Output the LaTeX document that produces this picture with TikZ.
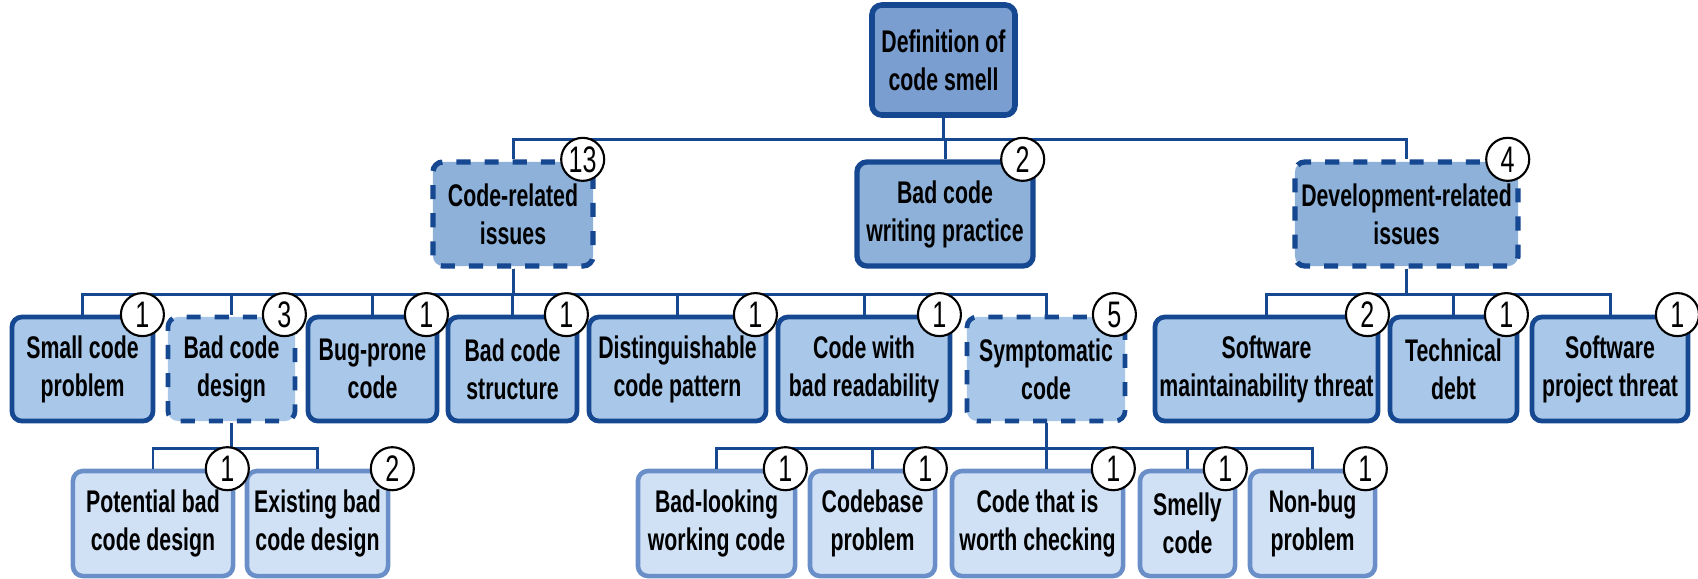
\documentclass[tikz,border=0pt]{standalone}
\usepackage{fontspec}
\setmainfont{Liberation Sans}[FakeStretch=0.68]
\definecolor{smellline}{RGB}{22,72,145}
\definecolor{rootfill}{RGB}{122,158,208}
\definecolor{catfill}{RGB}{141,177,217}
\definecolor{subfill}{RGB}{168,199,233}
\definecolor{leaffill}{RGB}{208,225,246}
\definecolor{leafline}{RGB}{105,142,200}
\begin{document}
\begin{tikzpicture}[x=0.01cm,y=-0.01cm,
	box/.style={rectangle, rounded corners=0.1cm, align=center, inner sep=0pt, text=black, font=\fontsize{8.9}{10.8}\selectfont\bfseries},
	rootbox/.style={box, draw=smellline, line width=1.6pt, fill=rootfill, minimum height=1.10cm},
	catbox/.style={box, draw=smellline, line width=1.5pt, fill=catfill, minimum height=1.04cm},
	subbox/.style={box, draw=smellline, line width=1.35pt, fill=subfill, minimum height=1.04cm},
	leafbox/.style={box, draw=leafline, line width=1.3pt, fill=leaffill, minimum height=1.05cm},
	group/.style={dash pattern=on 4pt off 4pt},
	link/.style={draw=smellline, line width=0.85pt},
	badge/.style={circle, draw=black, line width=0.6pt, fill=white, minimum size=0.43cm, inner sep=0pt, font=\fontsize{10.5}{12}\selectfont}]
		\useasboundingbox (0,0) rectangle (1698,578);
		
		% root and first level
		\node[rootbox, minimum width=1.43cm] (root) at (943.5,60) {Definition of\\code smell};
		\node[catbox, group, minimum width=1.60cm] (code) at (513,214) {Code-related\\issues};
		\node[catbox, minimum width=1.76cm] (practice) at (945,214) {Bad code\\writing practice};
		\node[catbox, group, minimum width=2.23cm] (dev) at (1406.5,214) {Development-related\\issues};
		
		% second level
		\node[subbox, minimum width=1.41cm] (small) at (82.5,369) {Small code\\problem};
		\node[subbox, group, minimum width=1.27cm] (design) at (231.5,369) {Bad code\\design};
		\node[subbox, minimum width=1.29cm] (bugprone) at (372.5,369) {Bug-prone\\code};
		\node[subbox, minimum width=1.29cm] (structure) at (512.5,369) {Bad code\\structure};
		\node[subbox, minimum width=1.77cm] (pattern) at (677.5,369) {Distinguishable\\code pattern};
		\node[subbox, minimum width=1.72cm] (readability) at (864,369) {Code with\\bad readability};
		\node[subbox, group, minimum width=1.58cm] (symptom) at (1046,369) {Symptomatic\\code};
		\node[subbox, minimum width=2.23cm] (maintain) at (1266.5,369) {Software\\maintainability threat};
		\node[subbox, minimum width=1.27cm] (debt) at (1453.5,369) {Technical\\debt};
		\node[subbox, minimum width=1.56cm] (project) at (1610,369) {Software\\project threat};
		
		% third level
		\node[leafbox, minimum width=1.60cm] (potential) at (153,523.5) {Potential bad\\code design};
		\node[leafbox, minimum width=1.41cm] (existing) at (317.5,523.5) {Existing bad\\code design};
		\node[leafbox, minimum width=1.57cm] (badlooking) at (716.5,523.5) {Bad-looking\\working code};
		\node[leafbox, minimum width=1.25cm] (codebase) at (872.5,523.5) {Codebase\\problem};
		\node[leafbox, minimum width=1.71cm] (worth) at (1037.5,523.5) {Code that is\\worth checking};
		\node[leafbox, minimum width=0.95cm] (smelly) at (1187.5,523.5) {Smelly\\code};
		\node[leafbox, minimum width=1.25cm] (nonbug) at (1312.5,523.5) {Non-bug\\problem};
		
		% connectors
		\foreach \c in {code,practice,dev}
			\draw[link] (root.south) -- ++(0,22) -| (\c.north);
		\foreach \c in {small,design,bugprone,structure,pattern,readability,symptom}
			\draw[link] (code.south) -- ++(0,26) -| (\c.north);
		\foreach \c in {maintain,debt,project}
			\draw[link] (dev.south) -- ++(0,26) -| (\c.north);
		\foreach \c in {potential,existing}
			\draw[link] (design.south) -- ++(0,25) -| (\c.north);
		\foreach \c in {badlooking,codebase,smelly,nonbug}
			\draw[link] (symptom.south) -- ++(0,25) -| (\c.north);
		\draw[link] (symptom.south) -- (symptom.south |- worth.north);
		
		% counts
		\node[badge] (n-code) at ([xshift=-0.13cm]code.north east) {13};
		\node[badge] (n-practice) at ([xshift=-0.13cm]practice.north east) {2};
		\node[badge] (n-dev) at ([xshift=-0.13cm]dev.north east) {4};
		\node[badge] (n-small) at ([xshift=-0.13cm]small.north east) {1};
		\node[badge] (n-design) at ([xshift=-0.13cm]design.north east) {3};
		\node[badge] (n-bugprone) at ([xshift=-0.13cm]bugprone.north east) {1};
		\node[badge] (n-structure) at ([xshift=-0.13cm]structure.north east) {1};
		\node[badge] (n-pattern) at ([xshift=-0.13cm]pattern.north east) {1};
		\node[badge] (n-readability) at ([xshift=-0.13cm]readability.north east) {1};
		\node[badge] (n-symptom) at ([xshift=-0.13cm]symptom.north east) {5};
		\node[badge] (n-maintain) at ([xshift=-0.13cm]maintain.north east) {2};
		\node[badge] (n-debt) at ([xshift=-0.13cm]debt.north east) {1};
		\node[badge] (n-project) at ([xshift=-0.13cm]project.north east) {1};
		\node[badge] (n-potential) at ([xshift=-0.08cm]potential.north east) {1};
		\node[badge] (n-existing) at ([xshift=0.02cm]existing.north east) {2};
		\node[badge] (n-badlooking) at ([xshift=-0.12cm]badlooking.north east) {1};
		\node[badge] (n-codebase) at ([xshift=-0.12cm]codebase.north east) {1};
		\node[badge] (n-worth) at ([xshift=-0.12cm]worth.north east) {1};
		\node[badge] (n-smelly) at ([xshift=-0.12cm]smelly.north east) {1};
		\node[badge] (n-nonbug) at ([xshift=-0.12cm]nonbug.north east) {1};
	\end{tikzpicture}
\end{document}
